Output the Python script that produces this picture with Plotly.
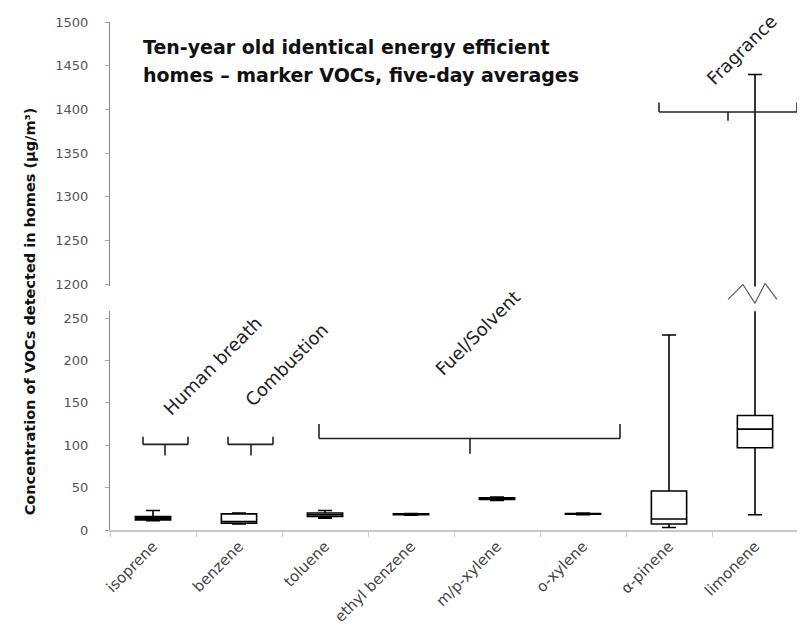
import plotly.graph_objects as go

# ---- data ----
compounds = ["isoprene", "benzene", "toluene", "ethyl benzene", "m/p-xylene",
             "o-xylene", "α-pinene", "limonene"]
q1 = [12, 8, 16, 18, 36, 18.5, 7, 97]
median = [14, 10, 18, 18.5, 37, 19, 13, 119]
q3 = [16, 19, 20, 19, 38, 19.5, 46, 135]
lowerfence = [11, 7, 14, 17.5, 35, 18, 3, 18]
upperfence = [23, 20, 23, 19.5, 39, 20, 230, 1440]

lower_ticks = [0, 50, 100, 150, 200, 250]
upper_ticks = [1200, 1250, 1300, 1350, 1400, 1450, 1500]

groups = ["Human breath", "Combustion", "Fuel/Solvent", "Fragrance"]

title_lines = ["Ten-year old identical energy efficient",
               "homes – marker VOCs, five-day averages"]
ytitle = "Concentration of VOCs detected in homes (µg/m³)"

# ---- layout geometry (page body has an 8px margin) ----
W, H = 797, 632
ML, MR, MT, MB = 102, 7, 11, 110
PW, PH = W - ML - MR, H - MT - MB
X0, YB = 110, 530  # screen px of plot left and plot bottom


def px(xp):
    return (xp - X0) / PW


def py(yp):
    return (YB - yp) / PH


def cx(xp):  # screen pixel -> category index
    return (xp - 153) / 86.0


fig = go.Figure()
for ya in ["y", "y2"]:
    fig.add_trace(go.Box(
        x=compounds, q1=q1, median=median, q3=q3,
        lowerfence=lowerfence, upperfence=upperfence,
        yaxis=ya, width=0.41, whiskerwidth=0.4,
        line=dict(color="black", width=1.6), fillcolor="white",
        boxpoints=False, showlegend=False, hoverinfo="skip"))

shapes = []


def seg(x0, y0, x1, y1, yref="y", xref="x", w=1.6, color="#222"):
    shapes.append(dict(type="line", xref=xref, yref=yref, x0=x0, y0=y0,
                       x1=x1, y1=y1, line=dict(color=color, width=w)))


# brackets: (left, right, centre tick) in px, (line, end up, tick down) in data
brackets = [
    (143, 188, 165, 101, 110, 88, "y"),
    (228, 273, 251, 101, 110, 88, "y"),
    (319, 620, 470, 108, 125, 90, "y"),
    (659, 797, 728, 1397, 1408, 1387, "y2"),
]
for xl, xr, xc, yl, yu, yd, r in brackets:
    seg(cx(xl), yl, cx(xr), yl, r)
    seg(cx(xl), yl, cx(xl), yu, r)
    seg(cx(xr), yl, cx(xr), yu, r)
    seg(cx(xc), yl, cx(xc), yd, r)

# zigzag break on limonene whisker
zz = [(728, 298), (743, 283), (755, 302), (765, 282), (777, 298)]
for (a, b), (c, d) in zip(zz[:-1], zz[1:]):
    seg(cx(a), py(b), cx(c), py(d), yref="paper", w=1.1, color="#555")

annotations = []
for t, yc in zip(title_lines, [44, 72]):
    annotations.append(dict(text="<b>%s</b>" % t, xref="paper", yref="paper",
                            x=px(141), y=py(yc), xanchor="left", yanchor="middle",
                            showarrow=False,
                            font=dict(family="DejaVu Sans", size=19, color="#111")))

annotations.append(dict(text="<b>%s</b>" % ytitle, xref="paper", yref="paper",
                        x=px(30), y=py(310), xanchor="center", yanchor="middle",
                        textangle=-90, showarrow=False,
                        font=dict(family="DejaVu Sans", size=14.5, color="#111")))

group_pos = [(213, 365), (287, 364), (478, 331), (742, 47)]
for g, (gx, gy) in zip(groups, group_pos):
    annotations.append(dict(text=g, xref="paper", yref="paper",
                            x=px(gx), y=py(gy), xanchor="center", yanchor="middle",
                            textangle=-45, showarrow=False,
                            font=dict(family="DejaVu Sans", size=18, color="#222")))

axis_font = dict(family="DejaVu Sans", size=13, color="#555")

fig.update_layout(
    width=W, height=H, margin=dict(l=ML, r=MR, t=MT, b=MB),
    paper_bgcolor="white", plot_bgcolor="white",
    showlegend=False, boxmode="overlay",
    xaxis=dict(type="category", range=[-0.5, 7.5], showline=True,
               linecolor="#c8c8c8", linewidth=1.5, ticks="outside",
               tickson="boundaries", ticklen=5, tickcolor="#c8c8c8",
               tickangle=-45, showgrid=False, zeroline=False,
               tickfont=dict(family="DejaVu Sans", size=15, color="#444"),
               anchor="y"),
    yaxis=dict(domain=[0, py(310)], range=[0, 258], tickvals=lower_ticks,
               showline=True, linecolor="#888", linewidth=1.2,
               ticks="outside", ticklen=4, tickcolor="#aaa",
               showgrid=False, zeroline=False, tickfont=axis_font,
               ticklabelstandoff=14),
    yaxis2=dict(domain=[py(285), 1], range=[1197.5, 1500], tickvals=upper_ticks,
                showline=True, linecolor="#888", linewidth=1.2,
                ticks="outside", ticklen=4, tickcolor="#aaa",
                showgrid=False, zeroline=False, tickfont=axis_font,
                ticklabelstandoff=14, anchor="x"),
    shapes=shapes, annotations=annotations,
)

fig.write_html("out.html")
